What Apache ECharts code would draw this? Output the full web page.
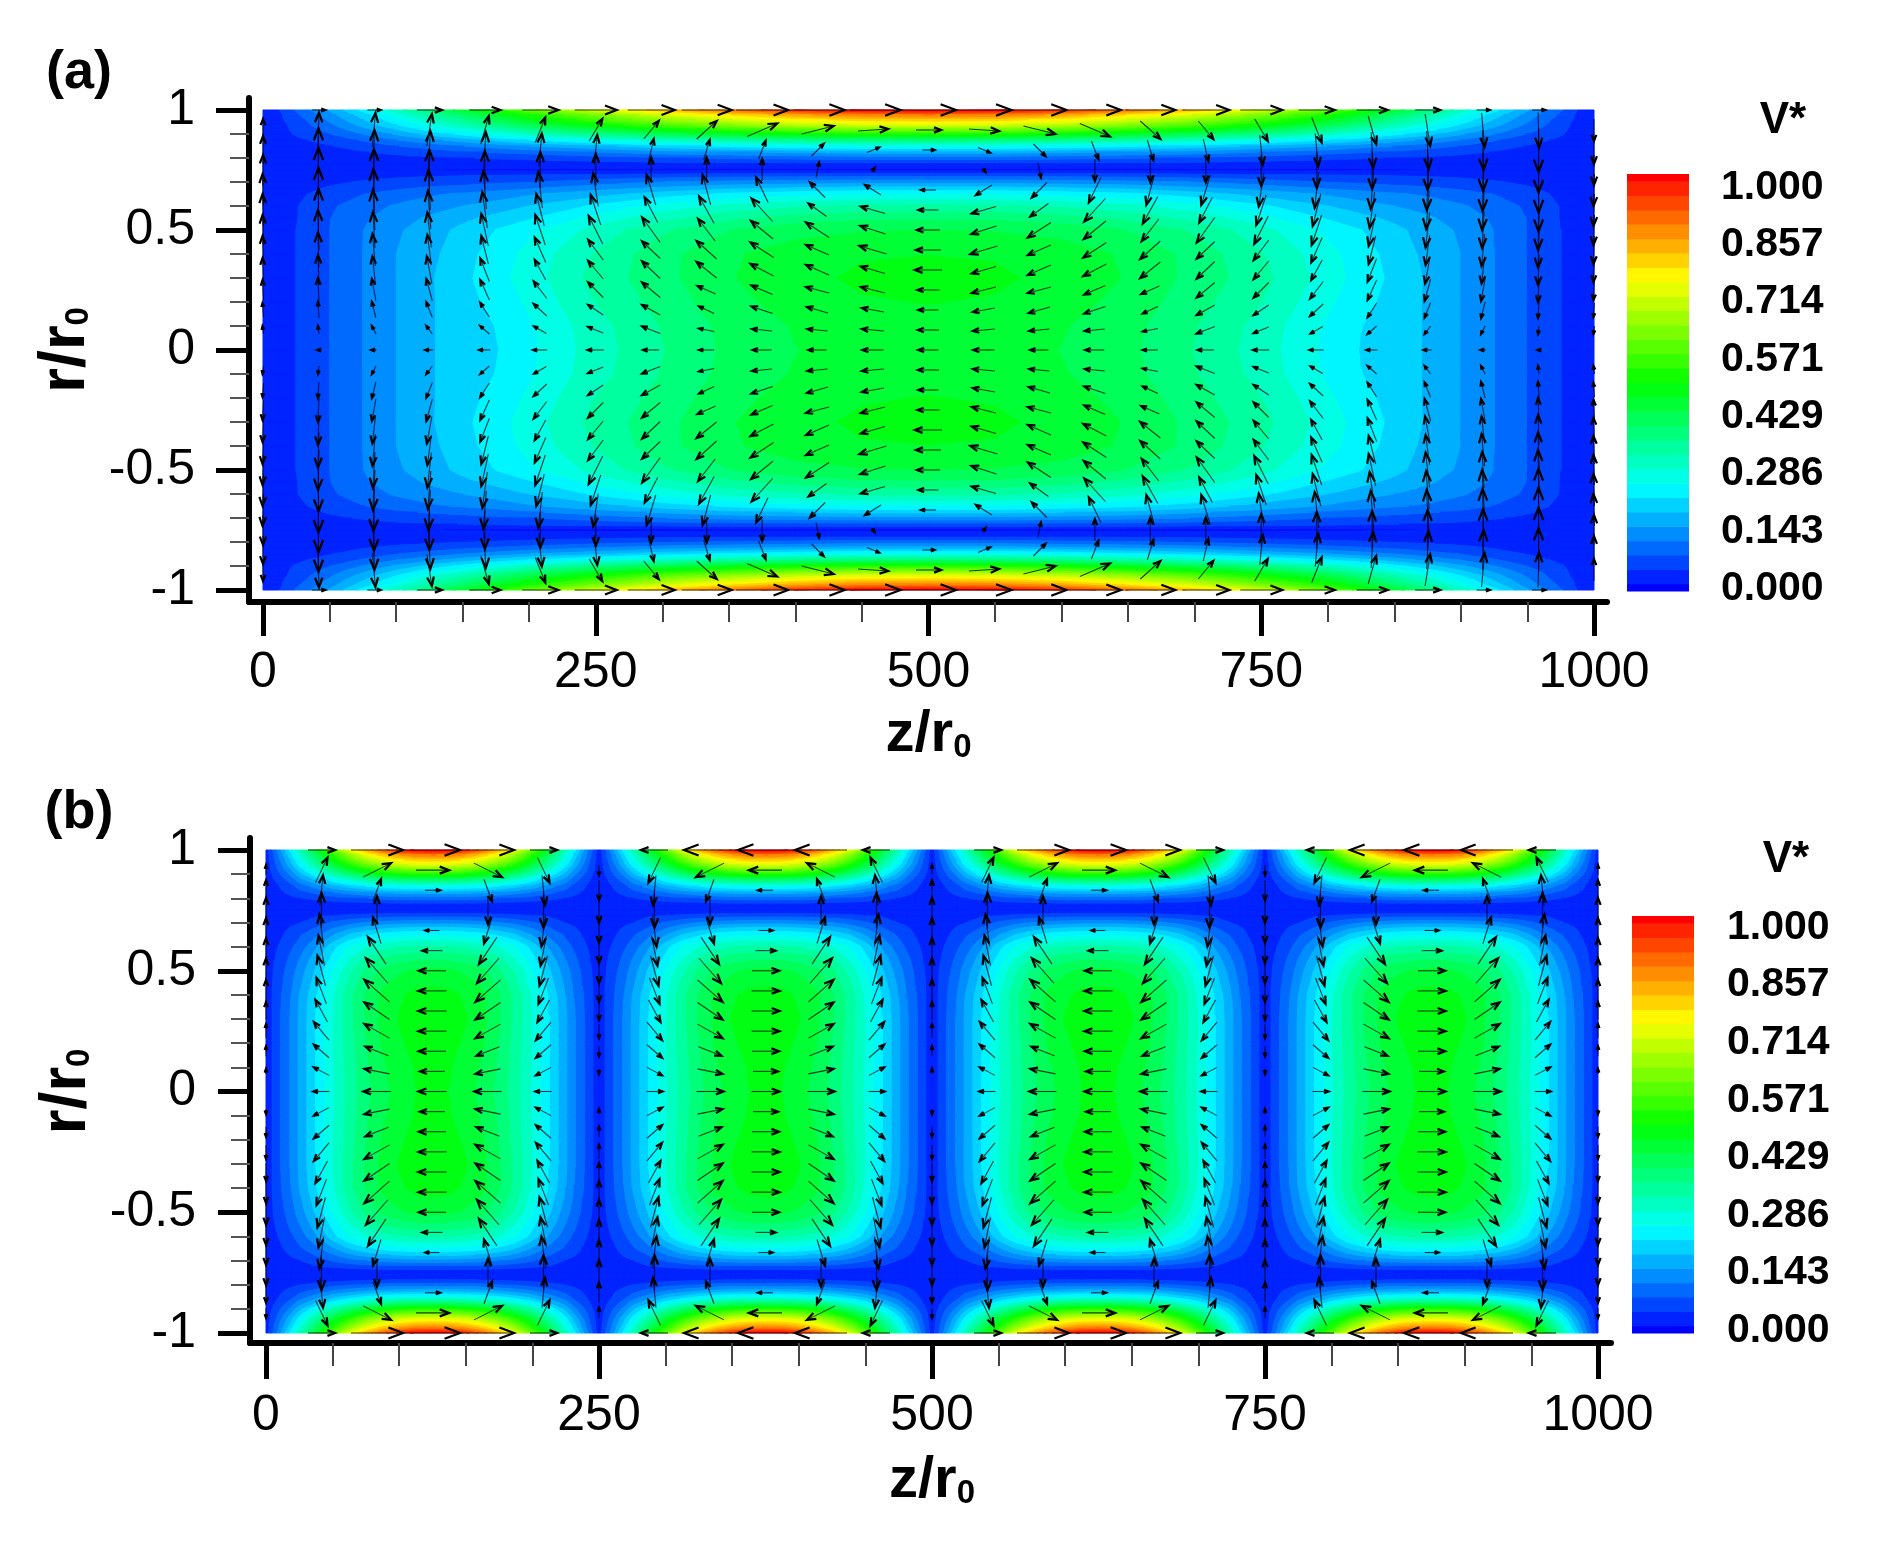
<!DOCTYPE html>
<html>
<head>
<meta charset="utf-8">
<title>v* contours</title>
<style>html,body{margin:0;padding:0;background:#fff}#chart{width:1904px;height:1561px}</style>
<script src="https://cdn.jsdelivr.net/npm/echarts@6/dist/echarts.min.js"></script>
</head>
<body>
<div id="chart"></div>
<script>
// contour grids. both panels are mirror symmetric so only one quarter is kept
const rRows = [1, .98, .96, .94, .92, .9, .875, .85, .825, .8, .775, .75, .725, .7, .675, .65, .6, .55, .5, .4, .3, .2, .1, 0]

// panel (a): z = 0..500
const zColsA = [0, 12, 25, 50, 75, 100, 125, 150, 175, 200, 250, 300, 350, 400, 450, 500]
const vA = [
  [.03, .05, .09, .16, .235, .31, .385, .45, .52, .59, .7, .8, .88, .95, .99, 1],
  [.03, .045, .08, .141, .207, .273, .339, .396, .458, .519, .616, .704, .774, .836, .871, .88],
  [.03, .045, .07, .128, .188, .248, .308, .36, .416, .472, .56, .64, .704, .76, .792, .8],
  [.03, .04, .065, .115, .169, .223, .277, .324, .374, .425, .504, .576, .634, .684, .713, .72],
  [.03, .04, .06, .1, .146, .192, .239, .279, .322, .366, .434, .496, .546, .589, .614, .62],
  [.03, .04, .055, .085, .122, .16, .2, .234, .27, .307, .364, .416, .458, .494, .515, .52],
  [.03, .035, .045, .065, .09, .12, .146, .17, .2, .225, .266, .304, .334, .36, .376, .38],
  [.03, .035, .04, .05, .065, .085, .1, .12, .135, .155, .18, .21, .23, .25, .26, .26],
  [.03, .03, .035, .04, .05, .06, .07, .08, .09, .1, .12, .14, .15, .16, .17, .17],
  [.03, .03, .03, .035, .04, .042, .045, .05, .055, .06, .07, .08, .09, .095, .1, .1],
  [.03, .03, .03, .03, .03, .03, .03, .03, .03, .032, .035, .04, .04, .04, .04, .04],
  [.03, .03, .028, .025, .022, .02, .018, .016, .015, .014, .012, .012, .012, .012, .012, .012],
  [.03, .03, .03, .035, .04, .045, .05, .052, .055, .06, .065, .07, .075, .078, .08, .08],
  [.03, .03, .035, .045, .055, .065, .07, .075, .08, .085, .1, .12, .13, .135, .14, .14],
  [.03, .033, .04, .055, .07, .08, .09, .095, .105, .115, .14, .16, .18, .19, .2, .2],
  [.03, .035, .045, .065, .085, .1, .115, .125, .135, .15, .175, .205, .23, .245, .255, .255],
  [.03, .04, .05, .08, .105, .125, .14, .155, .17, .19, .23, .27, .3, .32, .333, .335],
  [.03, .04, .05, .085, .115, .14, .16, .18, .2, .22, .27, .315, .35, .375, .388, .39],
  [.03, .04, .052, .086, .12, .15, .172, .2, .225, .25, .305, .355, .395, .418, .428, .431],
  [.03, .04, .052, .086, .121, .155, .18, .21, .24, .27, .33, .385, .425, .45, .462, .465],
  [.03, .04, .052, .086, .121, .155, .185, .215, .245, .275, .34, .385, .428, .455, .472, .476],
  [.03, .04, .052, .086, .121, .155, .185, .21, .236, .265, .328, .376, .418, .447, .462, .467],
  [.03, .04, .052, .086, .121, .155, .186, .206, .225, .253, .314, .364, .408, .434, .449, .45],
  [.03, .04, .052, .086, .121, .155, .186, .205, .222, .25, .31, .36, .405, .43, .445, .445]
]

// panel (b): one half cell z = 0..125, the cell repeats every 250
const zColsB = [0, 6.25, 12.5, 18.75, 25, 37.5, 50, 62.5, 75, 87.5, 100, 112.5, 125]
const vB = [
  [.03, .1, .17, .24, .31, .45, .59, .72, .82, .9, .96, .995, 1],
  [.03, .09, .15, .215, .285, .41, .53, .64, .73, .8, .845, .875, .88],
  [.03, .085, .14, .195, .26, .375, .485, .585, .665, .725, .77, .795, .8],
  [.03, .075, .125, .18, .235, .34, .44, .525, .6, .655, .695, .715, .72],
  [.03, .07, .11, .155, .205, .295, .38, .455, .52, .565, .6, .615, .62],
  [.03, .06, .095, .13, .175, .25, .325, .385, .44, .48, .505, .52, .52],
  [.03, .05, .075, .1, .135, .185, .24, .285, .325, .35, .37, .38, .38],
  [.03, .04, .06, .075, .1, .135, .175, .2, .225, .245, .255, .26, .26],
  [.03, .04, .05, .06, .075, .095, .12, .135, .15, .16, .165, .17, .17],
  [.03, .035, .04, .045, .05, .06, .07, .08, .085, .095, .1, .1, .1],
  [.03, .03, .03, .03, .03, .03, .032, .034, .036, .038, .04, .04, .04],
  [.03, .03, .028, .026, .024, .022, .02, .02, .02, .02, .02, .02, .02],
  [.03, .03, .03, .035, .04, .05, .055, .065, .07, .075, .08, .08, .08],
  [.03, .03, .04, .045, .05, .07, .09, .105, .12, .13, .135, .14, .14],
  [.03, .035, .045, .055, .065, .09, .12, .15, .17, .185, .195, .2, .2],
  [.03, .04, .05, .065, .08, .11, .15, .19, .215, .235, .245, .25, .25],
  [.03, .045, .06, .08, .1, .15, .21, .26, .29, .31, .325, .33, .33],
  [.03, .05, .07, .095, .12, .175, .235, .29, .335, .365, .38, .388, .39],
  [.03, .055, .08, .105, .135, .195, .26, .32, .37, .405, .425, .437, .44],
  [.03, .06, .09, .12, .155, .22, .285, .35, .4, .44, .46, .475, .478],
  [.03, .06, .095, .125, .16, .225, .29, .35, .4, .44, .468, .482, .485],
  [.03, .06, .095, .125, .16, .225, .29, .345, .395, .435, .46, .476, .48],
  [.03, .06, .095, .125, .16, .225, .288, .342, .39, .425, .45, .468, .473],
  [.03, .06, .095, .125, .16, .225, .285, .34, .385, .42, .445, .465, .47]
]

// velocity arrows, 25 x 25 in the plot. rows r = 1..0 in 1/12 steps, columns z in 1000/24 steps
const arrowRows = [1, 11 / 12, 10 / 12, 9 / 12, 8 / 12, 7 / 12, 6 / 12, 5 / 12, 4 / 12, 3 / 12, 2 / 12, 1 / 12, 0]
const arrowUA = [
  [0, 13, 13, 25, 31, 36, 42, 47, 50, 52, 54, 55, 55],
  [0, 1, 3, 5, 8, 10, 13, 15, 20, 30, 32, 30, 25],
  [0, 0, 1, 2, 2, 3, 3, 5, 6, 7, 12, 12, 12],
  [0, 0, 0, 0, 0, 0, 0, 0, 0, 0, 3, 3, 0],
  [-1, 0, -1, -2, -3, -4, -5, -9, -8, -12, -15, -16, -15],
  [-1, 0, -2, -3, -5, -8, -10, -13, -15, -21, -18, -24, -20],
  [-1, -1, -2, -4, -7, -10, -14, -18, -17, -22, -23, -25, -23],
  [-1, -1, -3, -4, -7, -11, -15, -18, -20, -23, -23, -27, -25],
  [-1, -1, -3, -5, -9, -11, -15, -18, -20, -23, -23, -24, -27],
  [-1, -1, -4, -6, -9, -13, -15, -18, -18, -21, -23, -24, -22],
  [-1, -1, -4, -6, -9, -13, -15, -18, -15, -21, -21, -22, -20],
  [-1, -1, -4, -6, -9, -12, -15, -18, -15, -20, -20, -22, -21],
  [0, -2, -5, -8, -11, -14, -16, -16, -15, -19, -18, -21, -20]
]
const arrowWA = [
  [0, 0, 0, 0, 0, 0, 0, 0, 0, 0, 0, 0, 0],
  [22, 35, 34, 32, 28, 25, 22, 18, 18, 13, 8, 2, 0],
  [28, 44, 40, 38, 36, 33, 30, 22, 20, 18, 12, 5, 0],
  [30, 45, 42, 40, 38, 36, 32, 25, 25, 22, 15, 4, 0],
  [32, 45, 42, 40, 38, 36, 33, 30, 30, 25, 15, 10, 0],
  [32, 43, 40, 38, 36, 32, 30, 25, 27, 23, 13, 7, 0],
  [30, 40, 36, 35, 32, 30, 28, 25, 22, 18, 15, 8, 0],
  [28, 35, 32, 30, 28, 25, 20, 17, 18, 15, 10, 8, 0],
  [24, 30, 27, 27, 23, 20, 18, 17, 16, 12, 10, 7, 0],
  [20, 24, 22, 22, 20, 17, 15, 15, 8, 9, 6, 6, 0],
  [14, 16, 16, 15, 14, 12, 10, 10, 7, 7, 6, 4, 0],
  [8, 8, 8, 8, 8, 7, 6, 7, 3, 2, 2, 2, 0],
  [0, 0, 0, 0, 0, 0, 0, 0, 0, 0, 0, 0, 0]
]
const arrowUB = [
  [0, 27, 52, 55], [0, 12, 28, 33], [0, 3, 8, 15], [0, 0, 0, 0], [0, -4, -8, -14],
  [0, -6, -18, -20], [0, -8, -22, -27], [0, -10, -25, -28], [0, -12, -25, -28],
  [0, -15, -25, -28], [0, -15, -23, -27], [0, -15, -25, -25], [0, -16, -27, -28]
]
const arrowWB = [
  [0, 0, 0, 0], [10, 25, 14, 0], [20, 30, 22, 0], [25, 35, 28, 0], [25, 32, 26, 0],
  [25, 30, 27, 0], [25, 30, 25, 0], [22, 26, 22, 0], [18, 22, 17, 0],
  [14, 18, 14, 0], [10, 13, 9, 0], [5, 8, 5, 0], [0, 0, 0, 0]
]

// colour bar
const colorStops = [[0, 0, 255], [0, 255, 255], [0, 255, 0], [255, 255, 0], [255, 0, 0]]
const levelCount = 30
const colorbarTicks = ['0.000', '0.143', '0.286', '0.429', '0.571', '0.714', '0.857', '1.000']

const FONT = '"Liberation Sans", Arial, sans-serif'

function levelColor(k) {
  const t = k / (levelCount - 1) * (colorStops.length - 1)
  const i = Math.min(Math.floor(t), colorStops.length - 2)
  const f = t - i
  const c = colorStops[i].map((a, n) => Math.round(a + (colorStops[i + 1][n] - a) * f))
  return 'rgb(' + c.join(',') + ')'
}
// each level's band is centred on it
function bandLow(k) { return k === 0 ? 0 : (k - .5) / (levelCount - 1) }
function bandHigh(k) { return k === levelCount - 1 ? 1.001 : (k + .5) / (levelCount - 1) }

// one half plane clip of a polygon [z, r, v] against a contour value
function clipPoly(poly, level, keepAbove) {
  const out = []
  for (let i = 0; i < poly.length; i++) {
    const a = poly[i]
    const b = poly[(i + 1) % poly.length]
    const aIn = keepAbove ? a[2] >= level : a[2] <= level
    const bIn = keepAbove ? b[2] >= level : b[2] <= level
    if (aIn) out.push(a)
    if (aIn !== bIn) {
      const f = (level - a[2]) / (b[2] - a[2])
      out.push([a[0] + (b[0] - a[0]) * f, a[1] + (b[1] - a[1]) * f, level])
    }
  }
  return out
}

// filled contours: one data item per grid cell, holding its four corner values
function renderCell(params, api) {
  const z0 = api.value(0), z1 = api.value(1), r0 = api.value(2), r1 = api.value(3)
  const quad = [[z0, r0, api.value(4)], [z1, r0, api.value(5)], [z1, r1, api.value(6)], [z0, r1, api.value(7)]]
  const vs = quad.map(p => p[2])
  const children = []
  for (let k = 0; k < levelCount; k++) {
    if (bandHigh(k) < Math.min(...vs) || bandLow(k) > Math.max(...vs)) continue
    let poly = clipPoly(quad, bandLow(k), true)
    if (poly.length) poly = clipPoly(poly, bandHigh(k), false)
    if (poly.length < 3) continue
    const color = levelColor(k)
    children.push({
      type: 'polygon',
      shape: { points: poly.map(p => api.coord([p[0], p[1]])) },
      style: { fill: color, stroke: color, lineWidth: 1 }
    })
  }
  return { type: 'group', children }
}

function renderArrow(params, api) {
  const p = api.coord([api.value(0), api.value(1)])
  const u = api.value(2), w = -api.value(3)
  const len = Math.sqrt(u * u + w * w)
  if (!len) return { type: 'group', children: [] }
  const tail = [p[0] - u / 2, p[1] - w / 2]
  const head = [p[0] + u / 2, p[1] + w / 2]
  const barb = Math.max(len * .3, 4)
  const ang = Math.atan2(w, u)
  const barbPoint = d => [head[0] - barb * Math.cos(ang + d), head[1] - barb * Math.sin(ang + d)]
  return {
    type: 'group',
    children: [
      { type: 'polyline', shape: { points: [tail, head] }, style: { fill: null, stroke: '#000', lineWidth: 1.1, opacity: .75 } },
      { type: 'polyline', shape: { points: [barbPoint(.36), head, barbPoint(-.36)] }, style: { fill: null, stroke: '#000', lineWidth: 2.2 } }
    ]
  }
}

function renderBand(params, api) {
  const a = api.coord([0, api.value(0)])
  const b = api.coord([1, api.value(1)])
  return {
    type: 'rect',
    shape: { x: a[0], y: b[1], width: b[0] - a[0], height: a[1] - b[1] + .5 },
    style: { fill: levelColor(api.value(2)) }
  }
}

// makes the full z and r lines out of the quarter, then one item per cell
function buildCells(zCols, vals, valueAt) {
  const rFull = rRows.concat(rRows.slice(0, -1).reverse().map(r => -r))
  const rowIndex = rFull.map((r, i) => i < rRows.length ? i : rFull.length - 1 - i)
  const cells = []
  for (let j = 0; j + 1 < rFull.length; j++) {
    for (let i = 0; i + 1 < zCols.length; i++) {
      cells.push([
        zCols[i], zCols[i + 1], rFull[j], rFull[j + 1],
        valueAt(vals[rowIndex[j]], i), valueAt(vals[rowIndex[j]], i + 1),
        valueAt(vals[rowIndex[j + 1]], i + 1), valueAt(vals[rowIndex[j + 1]], i)
      ])
    }
  }
  return cells
}

const halfA = zColsA.length - 1
const zFullA = zColsA.concat(zColsA.slice(0, -1).reverse().map(z => 1000 - z))
const cellsA = buildCells(zFullA, vA, (row, i) => row[i <= halfA ? i : 2 * halfA - i])

const halfB = zColsB.length - 1
const zCellB = zColsB.concat(zColsB.slice(0, -1).reverse().map(z => 250 - z))
let zFullB = []
for (let c = 0; c < 4; c++) zFullB = zFullB.concat(zCellB.slice(c ? 1 : 0).map(z => z + c * 250))
const cellsB = buildCells(zFullB, vB, (row, i) => {
  const m = i % (2 * halfB)
  return row[m <= halfB ? m : 2 * halfB - m]
})

function buildArrows(pick) {
  const out = []
  for (let i = 0; i <= 24; i++) {
    arrowRows.forEach((r, j) => {
      const a = pick(i, j)
      out.push([i * 1000 / 24, r, a[0], a[1]])
      if (r > 0) out.push([i * 1000 / 24, -r, a[0], -a[1]])
    })
  }
  return out
}
const arrowsA = buildArrows((i, j) => i <= 12
  ? [arrowUA[j][i], arrowWA[j][i]]
  : [arrowUA[j][24 - i], -arrowWA[j][24 - i]])
const arrowsB = buildArrows((i, j) => {
  const m = i % 12              // 500 long repeat
  const second = m > 6          // cell two is cell one flipped in z
  const n = second ? 12 - m : m
  const c = n <= 3 ? n : 6 - n
  const u = arrowUB[j][c], w = n <= 3 ? arrowWB[j][c] : -arrowWB[j][c]
  return [second ? -u : u, w]
})

const bandData = []
for (let k = 0; k < levelCount; k++) bandData.push([bandLow(k), Math.min(bandHigh(k), 1), k])

const grids = [], xAxes = [], yAxes = [], seriesList = []

function hiddenAxis(gridIndex, min, max) {
  return { type: 'value', gridIndex, min, max, show: false }
}

function addPanel(p) {
  // spines sit away from the data, so they get a grid of their own
  let g = grids.length
  grids.push({ left: p.spine.left, top: p.spine.top, width: p.spine.right - p.spine.left, height: p.spine.bottom - p.spine.top })
  const spineLine = { show: true, onZero: false, lineStyle: { color: '#000', width: 6 } }
  xAxes.push({ type: 'value', gridIndex: g, min: 0, max: 1, position: 'bottom', axisLine: spineLine, axisTick: { show: false }, axisLabel: { show: false }, splitLine: { show: false } })
  yAxes.push({ type: 'value', gridIndex: g, min: 0, max: 1, position: 'left', axisLine: spineLine, axisTick: { show: false }, axisLabel: { show: false }, splitLine: { show: false } })

  g = grids.length
  grids.push({ left: p.plot.left, top: p.plot.top, width: p.plot.width, height: p.plot.height })
  const sub = { fontFamily: FONT, fontWeight: 'bold', fontSize: 33, color: '#000', padding: [26, 0, 0, 0] }
  xAxes.push({
    type: 'value', gridIndex: g, min: 0, max: 1000, interval: 250,
    offset: p.spine.bottom - p.plot.top - p.plot.height,
    axisLine: { show: false, onZero: false },
    axisTick: { show: true, length: p.xTick, lineStyle: { color: '#000', width: 5 } },
    minorTick: { show: true, splitNumber: 5, length: p.xMinor, lineStyle: { color: '#444', width: 2 } },
    axisLabel: { fontFamily: FONT, fontSize: 50, color: '#000', margin: p.xMargin, hideOverlap: false, showMinLabel: true, showMaxLabel: true, formatter: v => String(v) },
    splitLine: { show: false }, minorSplitLine: { show: false },
    name: '{b|z/r}{s|0}', nameLocation: 'middle', nameGap: p.xNameGap,
    nameTextStyle: { rich: { b: { fontFamily: FONT, fontWeight: 'bold', fontSize: 58, color: '#000' }, s: sub } }
  })
  yAxes.push({
    type: 'value', gridIndex: g, min: -1, max: 1, interval: .5,
    offset: p.plot.left - p.spine.left,
    axisLine: { show: false, onZero: false },
    axisTick: { show: true, length: p.yTick, lineStyle: { color: '#000', width: 5 } },
    minorTick: { show: true, splitNumber: 5, length: p.yMinor, lineStyle: { color: '#555', width: 2 } },
    axisLabel: { fontFamily: FONT, fontSize: 50, color: '#000', margin: 54, padding: [5, 0, 0, 0], hideOverlap: false, showMinLabel: true, showMaxLabel: true },
    splitLine: { show: false }, minorSplitLine: { show: false },
    name: '{b|r/r}{s|0}', nameLocation: 'middle', nameGap: p.yNameGap,
    nameTextStyle: { rich: { b: { fontFamily: FONT, fontWeight: 'bold', fontSize: 64, color: '#000' }, s: sub } }
  })
  seriesList.push({ type: 'custom', xAxisIndex: g, yAxisIndex: g, data: p.cells, renderItem: renderCell, silent: true, animation: false, progressive: 0, encode: { x: 0, y: 2 }, z: 2 })
  seriesList.push({ type: 'custom', xAxisIndex: g, yAxisIndex: g, data: p.arrows, renderItem: renderArrow, silent: true, animation: false, progressive: 0, clip: false, encode: { x: 0, y: 1 }, z: 3 })

  // colour bar
  g = grids.length
  grids.push({ left: p.bar.left, top: p.bar.top, width: p.bar.width, height: p.bar.height })
  xAxes.push(hiddenAxis(g, 0, 1))
  yAxes.push(hiddenAxis(g, 0, 1))
  seriesList.push({ type: 'custom', xAxisIndex: g, yAxisIndex: g, data: bandData, renderItem: renderBand, silent: true, animation: false, encode: { y: 0 } })

  // its labels do not sit on the values, they are spaced evenly between their own two ends
  g = grids.length
  grids.push({ left: p.bar.left + p.bar.width, top: p.labels.top, width: 10, height: p.labels.height })
  xAxes.push(hiddenAxis(g, 0, 1))
  yAxes.push({
    type: 'category', gridIndex: g, position: 'right', data: colorbarTicks, boundaryGap: false,
    axisLine: { show: false }, axisTick: { show: false }, splitLine: { show: false },
    axisLabel: { interval: 0, fontFamily: FONT, fontWeight: 'bold', fontSize: 41, color: '#000', margin: p.labels.margin, align: 'left' }
  })
}

addPanel({
  spine: { left: 249, top: 98, right: 1607, bottom: 602 },
  plot: { left: 263, top: 110, width: 1331, height: 480 },
  bar: { left: 1627, top: 174, width: 62, height: 417 },
  labels: { top: 187.5, height: 401, margin: 22 },
  xTick: 34, xMinor: 20, yTick: 33, yMinor: 19, xMargin: 46, xNameGap: 103, yNameGap: 142,
  cells: cellsA, arrows: arrowsA
})
addPanel({
  spine: { left: 250, top: 838, right: 1611, bottom: 1343 },
  plot: { left: 266, top: 850, width: 1332, height: 483 },
  bar: { left: 1632, top: 916, width: 62, height: 417 },
  labels: { top: 927.5, height: 403, margin: 23 },
  xTick: 36, xMinor: 23, yTick: 32, yMinor: 19, xMargin: 48, xNameGap: 108, yNameGap: 142,
  cells: cellsB, arrows: arrowsB
})

function label(text, x, y, size) {
  return { type: 'text', x, y, style: { text, fontFamily: FONT, fontWeight: 'bold', fontSize: size, fill: '#000', textAlign: 'center', textVerticalAlign: 'middle' } }
}

const chart = echarts.init(document.getElementById('chart'), null, { renderer: 'canvas' })
chart.setOption({
  animation: false,
  backgroundColor: '#fff',
  grid: grids,
  xAxis: xAxes,
  yAxis: yAxes,
  series: seriesList,
  graphic: [
    label('(a)', 79, 73, 54),
    label('(b)', 79, 813, 54),
    label('V*', 1783, 121, 44),
    label('V*', 1786, 860, 44)
  ]
})
</script>
</body>
</html>
